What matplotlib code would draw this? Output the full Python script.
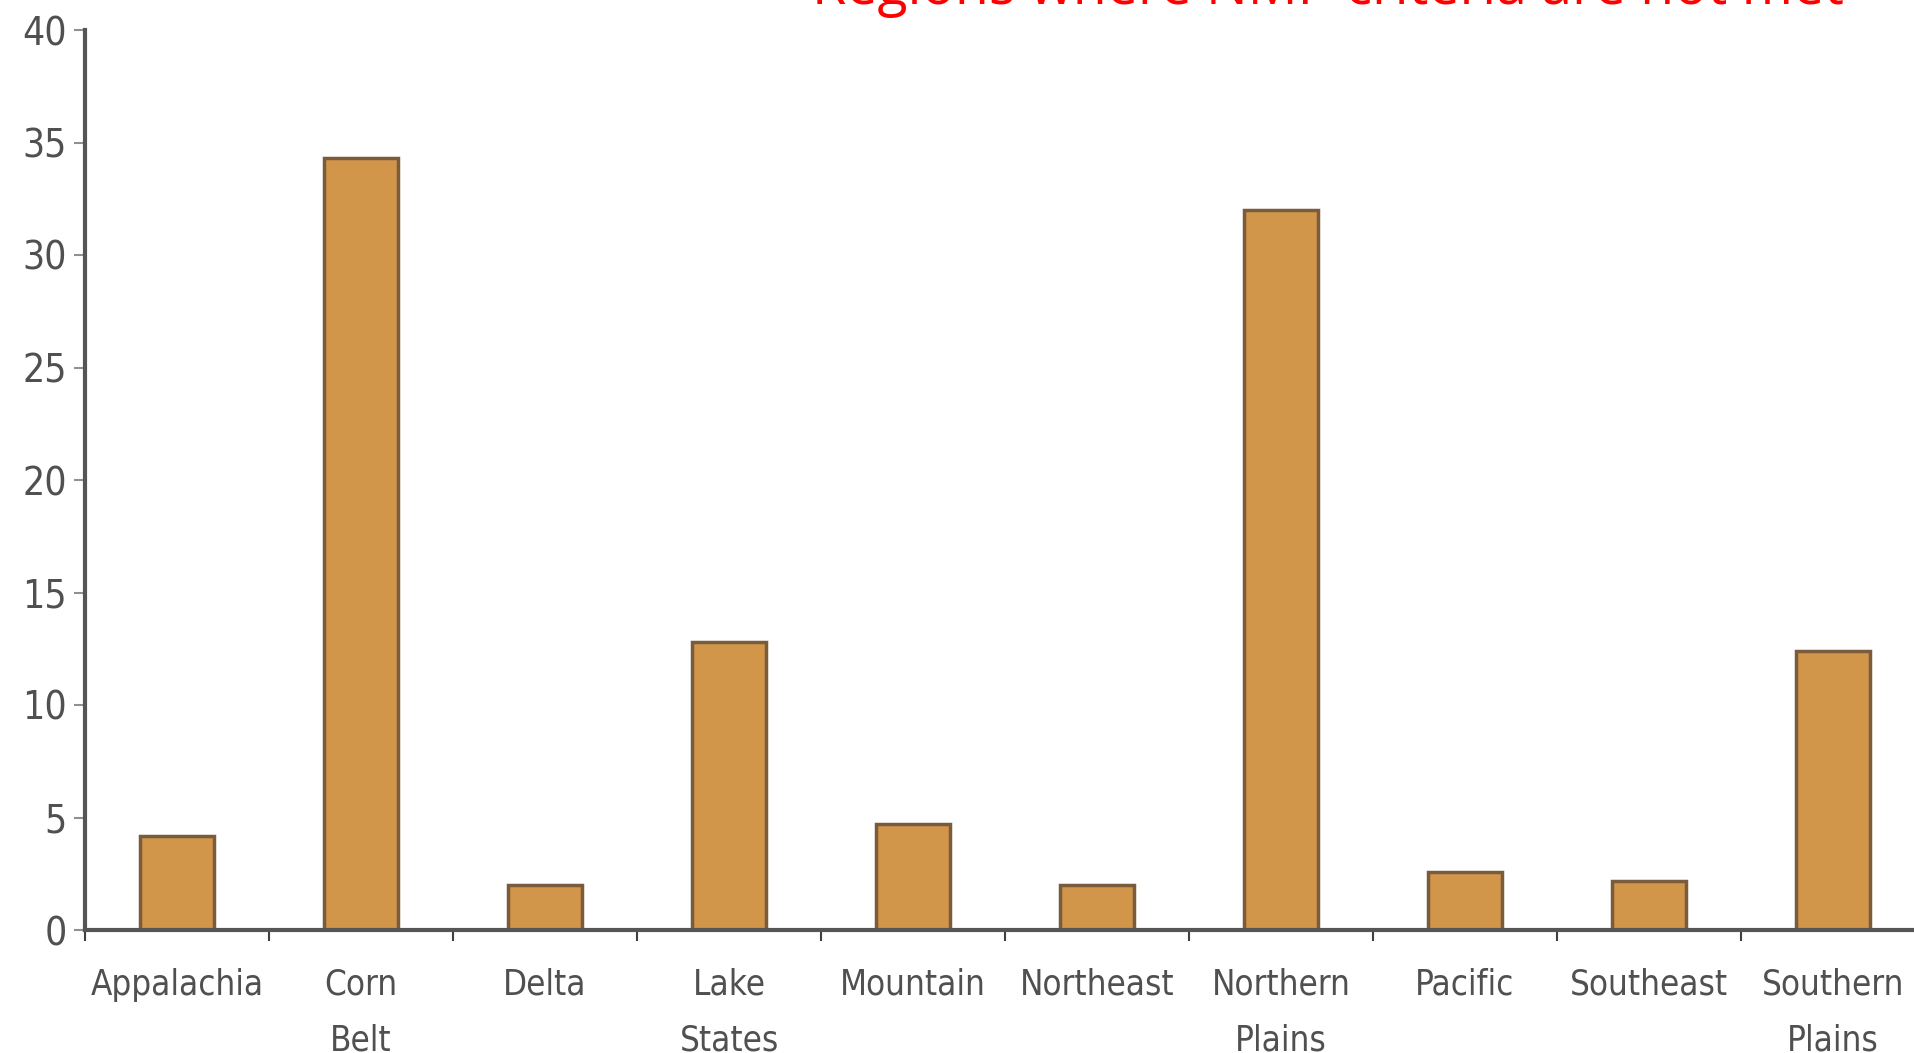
import matplotlib.pyplot as plt
import numpy as np

regions = ['Appalachia', 'Corn\nBelt', 'Delta', 'Lake\nStates', 'Mountain',
           'Northeast', 'Northern\nPlains', 'Pacific', 'Southeast', 'Southern\nPlains']
values = [4.2, 34.3, 2.0, 12.8, 4.7, 2.0, 32.0, 2.6, 2.2, 12.4]
yticks = [0, 5, 10, 15, 20, 25, 30, 35, 40]

fig = plt.figure(figsize=(19.15, 10.53), dpi=100)
ax = fig.add_axes([85 / 1915, 1 - 930 / 1053, 1840 / 1915, 900 / 1053])

x = np.arange(len(regions))
ax.bar(x, values, width=0.4, color='#d2964a', edgecolor='#7a5c3c', linewidth=2.5, zorder=3)

ax.set_xlim(-0.5, len(regions) - 0.5)
ax.set_ylim(0, 40)
ax.set_yticks(yticks)
ax.set_yticklabels([str(v) for v in yticks])
ax.set_xticks(x)
ax.set_xticklabels(regions, linespacing=1.8)
ax.set_xticks(np.arange(len(regions) + 1) - 0.5, minor=True)

for lbl in ax.get_xticklabels() + ax.get_yticklabels():
    lbl.set_family('DejaVu Sans')
    lbl.set_stretch('condensed')
    lbl.set_color('#505050')
for lbl in ax.get_xticklabels():
    lbl.set_fontsize(25)
    lbl.set_va('top')
for lbl in ax.get_yticklabels():
    lbl.set_fontsize(28)

ax.tick_params(axis='x', which='major', length=0, pad=27)
ax.tick_params(axis='x', which='minor', length=8, width=1.5, color='#404040')
ax.tick_params(axis='y', length=8, width=1.5, color='#909090', pad=5)

for side in ['top', 'right']:
    ax.spines[side].set_visible(False)
for side in ['left', 'bottom']:
    ax.spines[side].set_color('#555555')
    ax.spines[side].set_linewidth(3)
ax.spines['bottom'].set_zorder(4)

fig.text(812 / 1915, 1 - 4 / 1053, 'Regions where NMP criteria are not met',
         color='red', fontsize=40, family=['Open Sans', 'DejaVu Sans'],
         ha='left', va='baseline')

fig.savefig('out.png', dpi=100)
